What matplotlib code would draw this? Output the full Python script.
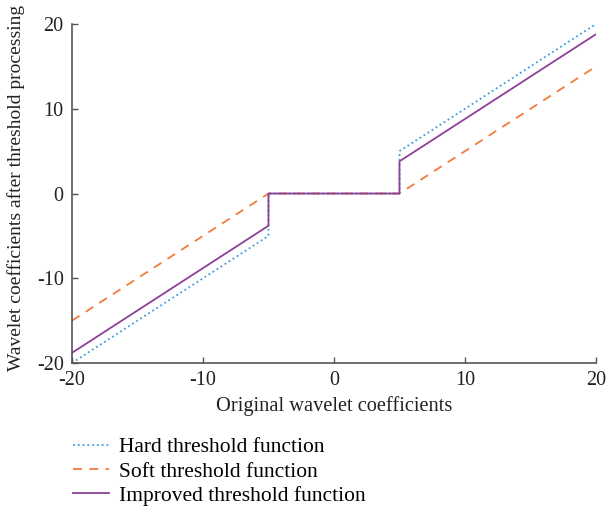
import matplotlib
matplotlib.use("Agg")
import matplotlib.pyplot as plt

plt.rcParams['font.family'] = ['Liberation Serif', 'DejaVu Serif']
plt.rcParams['axes.unicode_minus'] = False

# breakpoints of the three threshold curves (threshold = 5)
x_pts = [-20, -5, -5, 5, 5, 20]
hard_y = [-20, -5, 0, 0, 5, 20]
soft_y = [-15, 0, 0, 0, 0, 15]
improved_y = [-18.8, -3.8, 0, 0, 3.8, 18.8]

fig = plt.figure(figsize=(6.06, 5.09), dpi=100)
ax = fig.add_axes([0.1188, 0.2868, 0.8647, 0.666])

ax.plot(x_pts, hard_y, linestyle=':', color='#3b9ddb', lw=1.3, label='Hard threshold function')
ax.plot(x_pts, soft_y, linestyle='--', color='#f47a3c', lw=1.3, dashes=(5, 4), label='Soft threshold function')
ax.plot(x_pts, improved_y, linestyle='-', color='#8e3f98', lw=1.3, label='Improved threshold function')

ax.set_xlim(-20, 20)
ax.set_ylim(-20, 20)
ax.set_xticks([-20, -10, 0, 10, 20])
ax.set_yticks([-20, -10, 0, 10, 20])
ax.spines['top'].set_visible(False)
ax.spines['right'].set_visible(False)
for s in ('left', 'bottom'):
    ax.spines[s].set_color('#555555')
    ax.spines[s].set_linewidth(1.2)
ax.tick_params(axis='both', labelsize=14.5, direction='in', length=4, width=1,
               color='#555555', labelcolor='#222222', pad=6)
ax.set_xlabel('Original wavelet coefficients', fontsize=14.7, color='#222222', labelpad=4)
ax.set_ylabel('Wavelet coefficients after threshold processing', fontsize=14, color='#222222')
ax.yaxis.set_label_coords(-0.09, 0.515)

fig.legend(loc='upper left', bbox_to_anchor=(0.107, 0.158), frameon=False, fontsize=15.5,
           handlelength=1.65, labelspacing=0.2, handletextpad=0.45, borderaxespad=0)

fig.savefig('out.png', dpi=100)
